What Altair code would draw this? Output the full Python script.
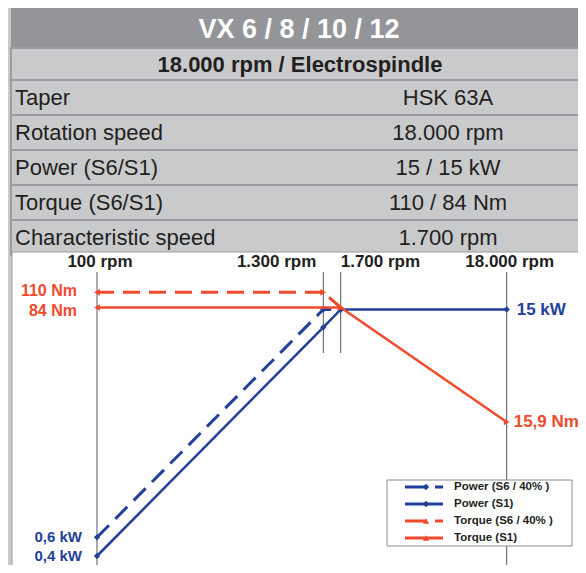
import altair as alt
import pandas as pd

# ---------------- data ----------------
title_text = "VX 6 / 8 / 10 / 12"
subtitle_text = "18.000 rpm / Electrospindle"
spec_labels = ["Taper", "Rotation speed", "Power (S6/S1)", "Torque (S6/S1)", "Characteristic speed"]
spec_values = ["HSK 63A", "18.000 rpm", "15 / 15 kW", "110 / 84 Nm", "1.700 rpm"]

rpm_ticks = [100, 1300, 1700, 18000]
rpm_tick_labels = ["100 rpm", "1.300 rpm", "1.700 rpm", "18.000 rpm"]

series_names = ["Power (S6 / 40% )", "Power (S1)", "Torque (S6 / 40% )", "Torque (S1)"]

power_s6_rpm = [100, 1300, 1700]
power_s6_kw = [0.6, 15, 15]
power_s1_rpm = [100, 1300, 1700, 18000]
power_s1_kw = [0.4, 11.4, 15, 15]
torque_s6_rpm = [100, 1300, 1700]
torque_s6_nm = [110, 110, 84]
torque_s1_rpm = [100, 1700, 18000]
torque_s1_nm = [84, 84, 15.9]

power_label_rpm = [100, 100, 18000]
power_label_kw = [0.6, 0.4, 15]
power_label_text = ["0,6 kW", "0,4 kW", "15 kW"]
torque_label_rpm = [100, 100, 18000]
torque_label_nm = [110, 84, 15.9]
torque_label_text = ["110 Nm", "84 Nm", "15,9 Nm"]

# ---------------- styles ----------------
BG = "#c9cacc"
HEAD = "#939598"
LINEGRAY = "#9c9da0"
BLUE = "#22409a"
RED = "#f04a2c"
DARK = "#231f20"
SANS = "Liberation Sans, Arial, sans-serif"

W, H = 570, 557

x_rpm = alt.Scale(type="linear", domain=rpm_ticks, range=[89, 315.3, 332.7, 498.7], zero=False, nice=False)
y_kw = alt.Scale(type="linear", domain=[0.4, 0.6, 11.4, 15], range=[548, 529.3, 319.3, 301.5], zero=False, nice=False)
y_nm = alt.Scale(type="linear", domain=[15.9, 84, 110], range=[414, 299.5, 284.3], zero=False, nice=False)

one = pd.DataFrame({"k": [0]})

# ---------------- header / table ----------------
head_rect = alt.Chart(one).mark_rect(color=HEAD).encode(
    x=alt.value(3), x2=alt.value(W), y=alt.value(0), y2=alt.value(40))
sub_rect = alt.Chart(one).mark_rect(fill=BG, stroke=LINEGRAY, strokeWidth=2).encode(
    x=alt.value(3), x2=alt.value(W + 2), y=alt.value(40), y2=alt.value(72))
title = alt.Chart(pd.DataFrame({"t": [title_text]})).mark_text(
    font=SANS, fontSize=27, fontWeight="bold", color="white", align="center", baseline="middle"
).encode(text="t:N", x=alt.value(291), y=alt.value(22))
subtitle = alt.Chart(pd.DataFrame({"t": [subtitle_text]})).mark_text(
    font=SANS, fontSize=22, fontWeight="bold", color=DARK, align="center", baseline="middle"
).encode(text="t:N", x=alt.value(292), y=alt.value(57))

spec_df = pd.DataFrame({"label": spec_labels, "value": spec_values})
row_y = alt.Y("label:N", scale=alt.Scale(type="band", domain=spec_labels, range=[72, 247],
                                         paddingInner=0, paddingOuter=0), axis=None)
row_rects = alt.Chart(spec_df).mark_rect(fill=BG, stroke=LINEGRAY, strokeWidth=2).encode(
    y=row_y, x=alt.value(3), x2=alt.value(W + 2))
row_labels = alt.Chart(spec_df).mark_text(
    font=SANS, fontSize=22, color=DARK, align="left", baseline="middle"
).encode(y=row_y, x=alt.value(7), text="label:N")
row_values = alt.Chart(spec_df).mark_text(
    font=SANS, fontSize=22, color=DARK, align="center", baseline="middle"
).encode(y=row_y, x=alt.value(440), text="value:N")
table = alt.layer(row_rects, row_labels, row_values)

plot_bg = alt.Chart(one).mark_rect(fill="white", stroke=LINEGRAY, strokeWidth=1).encode(
    x=alt.value(4), x2=alt.value(W + 2), y=alt.value(244), y2=alt.value(H + 2))

# ---------------- rpm rules & labels ----------------
rpm_df = pd.DataFrame({"rpm": rpm_ticks, "lab": rpm_tick_labels})
rpm_x = alt.X("rpm:Q", scale=x_rpm, axis=None)
rules_long = alt.Chart(rpm_df).transform_filter(
    (alt.datum.rpm == 100) | (alt.datum.rpm == 18000)
).mark_rule(color="#555555", strokeWidth=1).encode(x=rpm_x, y=alt.value(264), y2=alt.value(H))
rules_short = alt.Chart(rpm_df).transform_filter(
    (alt.datum.rpm == 1300) | (alt.datum.rpm == 1700)
).mark_rule(color="#555555", strokeWidth=1).encode(x=rpm_x, y=alt.value(264), y2=alt.value(345))
lab_style = dict(font=SANS, fontSize=17, fontWeight="bold", color=DARK, baseline="middle")
rpm_lab_c = alt.Chart(rpm_df).transform_filter(
    (alt.datum.rpm == 100) | (alt.datum.rpm == 18000)
).mark_text(align="center", dx=3, **lab_style).encode(x=rpm_x, y=alt.value(254), text="lab:N")
rpm_lab_r = alt.Chart(rpm_df).transform_filter(alt.datum.rpm == 1300).mark_text(
    align="right", dx=-7, **lab_style).encode(x=rpm_x, y=alt.value(254), text="lab:N")
rpm_lab_l = alt.Chart(rpm_df).transform_filter(alt.datum.rpm == 1700).mark_text(
    align="left", dx=0, **lab_style).encode(x=rpm_x, y=alt.value(254), text="lab:N")

# ---------------- power ----------------
p6 = pd.DataFrame({"rpm": power_s6_rpm, "kw": power_s6_kw})
p1 = pd.DataFrame({"rpm": power_s1_rpm, "kw": power_s1_kw})
pkw = alt.Y("kw:Q", scale=y_kw, axis=None)
p6_line = alt.Chart(p6).mark_line(color=BLUE, strokeWidth=3, strokeDash=[17, 9]).encode(
    x=rpm_x, y=pkw, order="rpm:Q")
p1_line = alt.Chart(p1).mark_line(color=BLUE, strokeWidth=2.5).encode(x=rpm_x, y=pkw, order="rpm:Q")
p6_pts = alt.Chart(p6).mark_point(shape="diamond", filled=True, size=40, color=BLUE, opacity=1).encode(
    x=rpm_x, y=pkw)
p1_pts = alt.Chart(p1).mark_point(shape="diamond", filled=True, size=40, color=BLUE, opacity=1).encode(
    x=rpm_x, y=pkw)
pl_df = pd.DataFrame({"rpm": power_label_rpm, "kw": power_label_kw, "t": power_label_text})
pl_style = dict(font=SANS, fontWeight="bold", color=BLUE, baseline="middle")
p_lab_06 = alt.Chart(pl_df).transform_filter(alt.datum.kw == 0.6).mark_text(
    align="right", dx=-15, dy=0, fontSize=15, **pl_style).encode(x=rpm_x, y=pkw, text="t:N")
p_lab_04 = alt.Chart(pl_df).transform_filter(alt.datum.kw == 0.4).mark_text(
    align="right", dx=-15, dy=0, fontSize=15, **pl_style).encode(x=rpm_x, y=pkw, text="t:N")
p_lab_r = alt.Chart(pl_df).transform_filter(alt.datum.rpm == 18000).mark_text(
    align="left", dx=10, dy=0, fontSize=17, **pl_style).encode(x=rpm_x, y=pkw, text="t:N")
power = alt.layer(p6_line, p1_line, p6_pts, p1_pts, p_lab_06, p_lab_04, p_lab_r)

# ---------------- torque ----------------
t6 = pd.DataFrame({"rpm": torque_s6_rpm, "nm": torque_s6_nm})
t1 = pd.DataFrame({"rpm": torque_s1_rpm, "nm": torque_s1_nm})
tnm = alt.Y("nm:Q", scale=y_nm, axis=None)
t6_line = alt.Chart(t6).mark_line(color=RED, strokeWidth=3, strokeDash=[17, 9]).encode(
    x=rpm_x, y=tnm, order="rpm:Q")
t1_line = alt.Chart(t1).mark_line(color=RED, strokeWidth=2.5).encode(x=rpm_x, y=tnm, order="rpm:Q")
tri_shape = alt.condition(alt.datum.rpm == 100, alt.value("triangle-left"), alt.value("triangle-right"))
t6_pts = alt.Chart(t6).mark_point(filled=True, size=45, color=RED, opacity=1).encode(
    x=rpm_x, y=tnm, shape=tri_shape)
t1_pts = alt.Chart(t1).mark_point(filled=True, size=45, color=RED, opacity=1).encode(
    x=rpm_x, y=tnm, shape=tri_shape)
tl_df = pd.DataFrame({"rpm": torque_label_rpm, "nm": torque_label_nm, "t": torque_label_text})
tl_style = dict(font=SANS, fontWeight="bold", color=RED, baseline="middle")
t_lab_110 = alt.Chart(tl_df).transform_filter(alt.datum.nm == 110).mark_text(
    align="right", dx=-20, dy=-1, fontSize=16, **tl_style).encode(x=rpm_x, y=tnm, text="t:N")
t_lab_84 = alt.Chart(tl_df).transform_filter(alt.datum.nm == 84).mark_text(
    align="right", dx=-20, dy=3, fontSize=16, **tl_style).encode(x=rpm_x, y=tnm, text="t:N")
t_lab_r = alt.Chart(tl_df).transform_filter(alt.datum.rpm == 18000).mark_text(
    align="left", dx=7, dy=0, fontSize=17, **tl_style).encode(x=rpm_x, y=tnm, text="t:N")
torque = alt.layer(t6_line, t1_line, t6_pts, t1_pts, t_lab_110, t_lab_84, t_lab_r)

# ---------------- legend ----------------
leg_df = pd.DataFrame({"series": series_names})
leg_y = alt.Y("series:N", scale=alt.Scale(type="point", domain=series_names, range=[479, 530], padding=0),
              axis=None)
leg_color = alt.Color("series:N", scale=alt.Scale(domain=series_names, range=[BLUE, BLUE, RED, RED]),
                      legend=None)
leg_box = alt.Chart(one).mark_rect(fill="white", stroke="#8c8c8c", strokeWidth=1).encode(
    x=alt.value(379), x2=alt.value(564), y=alt.value(472), y2=alt.value(538))
leg_lines = alt.Chart(leg_df).mark_rule(strokeWidth=3).encode(
    y=leg_y, x=alt.value(397), x2=alt.value(435), color=leg_color,
    strokeDash=alt.StrokeDash("series:N", scale=alt.Scale(
        domain=series_names, range=[[22, 8, 8, 50], [1, 0], [22, 8, 8, 50], [1, 0]]), legend=None))
leg_pts = alt.Chart(leg_df).mark_point(filled=True, size=40, opacity=1).encode(
    y=leg_y, x=alt.value(418), color=leg_color,
    shape=alt.Shape("series:N", scale=alt.Scale(
        domain=series_names, range=["diamond", "diamond", "triangle-up", "triangle-up"]), legend=None))
leg_text = alt.Chart(leg_df).mark_text(
    font=SANS, fontSize=11.5, fontWeight="bold", color=DARK, align="left", baseline="middle"
).encode(y=leg_y, x=alt.value(446), text="series:N")
legend = alt.layer(leg_lines, leg_pts, leg_text)

chart = alt.layer(
    head_rect, sub_rect, title, subtitle, table, plot_bg,
    rules_long, rules_short, rpm_lab_c, rpm_lab_r, rpm_lab_l,
    power, torque, leg_box, legend
).resolve_scale(y="independent", color="independent", shape="independent", strokeDash="independent"
).properties(
    width=W, height=H, background=BG, padding=0,
    autosize=alt.AutoSizeParams(type="fit", contains="padding")
).configure_view(stroke=None)

chart.save("out.html", embed_options={"renderer": "svg", "actions": False})
